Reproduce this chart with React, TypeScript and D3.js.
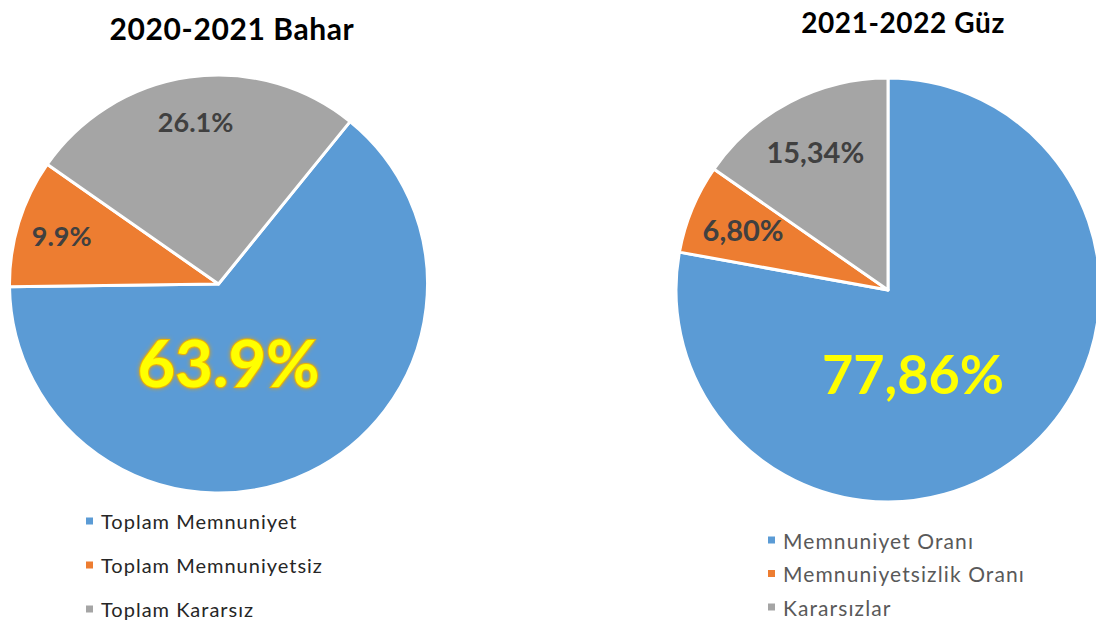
import React from "react";
import * as d3 from "d3";

const leftTitle = "2020-2021 Bahar";
const leftCategories = ["Toplam Memnuniyet", "Toplam Memnuniyetsiz", "Toplam Kararsız"];
const leftValues = [63.9, 9.9, 26.1];
const leftLabels = ["63.9%", "9.9%", "26.1%"];

const rightTitle = "2021-2022 Güz";
const rightCategories = ["Memnuniyet Oranı", "Memnuniyetsizlik Oranı", "Kararsızlar"];
const rightValues = [77.86, 6.8, 15.34];
const rightLabels = ["77,86%", "6,80%", "15,34%"];

const colors = ["#5B9BD5", "#ED7D31", "#A5A5A5"];
const FONT = "Lato, 'Open Sans', sans-serif";

type PieProps = {
  cx: number;
  cy: number;
  r: number;
  startDeg: number;
  values: number[];
  labels: string[];
  smallSize: number;
  bigSize: number;
  bigOffset: [number, number];
  labelFactor: number;
  glow: boolean;
};

function Pie(p: PieProps) {
  const start = (p.startDeg * Math.PI) / 180;
  const pie = d3
    .pie<number>()
    .sort(null)
    .value((d) => d)
    .startAngle(start)
    .endAngle(start + 2 * Math.PI);
  const arcs = pie(p.values);
  const arc = d3.arc<d3.PieArcDatum<number>>().innerRadius(0).outerRadius(p.r);
  const labelArc = d3
    .arc<d3.PieArcDatum<number>>()
    .innerRadius(p.r * p.labelFactor)
    .outerRadius(p.r * p.labelFactor);
  return (
    <g transform={`translate(${p.cx},${p.cy})`}>
      {arcs.map((a, i) => (
        <path key={i} d={arc(a) || ""} fill={colors[i]} stroke="#fff" strokeWidth={3} strokeLinejoin="round" />
      ))}
      {arcs.map((a, i) => {
        if (i === 0) {
          return (
            <text
              key={i}
              x={p.bigOffset[0]}
              y={p.bigOffset[1]}
              textAnchor="middle"
              dominantBaseline="central"
              fontFamily={FONT}
              fontWeight={700}
              fontSize={p.bigSize}
              fill="#FFFF00"
              stroke={p.glow ? "#F0B400" : "none"}
              strokeWidth={p.glow ? 2 : 0}
              paintOrder="stroke"
              filter={p.glow ? "url(#glow)" : undefined}
            >
              {p.labels[i]}
            </text>
          );
        }
        const [x, y] = labelArc.centroid(a);
        return (
          <text
            key={i}
            x={x}
            y={y}
            textAnchor="middle"
            dominantBaseline="central"
            fontFamily={FONT}
            fontWeight={700}
            fontSize={p.smallSize}
            fill="#404040"
          >
            {p.labels[i]}
          </text>
        );
      })}
    </g>
  );
}

type LegendProps = {
  x: number;
  y: number;
  gap: number;
  items: string[];
  size: number;
  spacing: number;
  color: string;
};

function Legend(p: LegendProps) {
  return (
    <g>
      {p.items.map((t, i) => (
        <g key={i} transform={`translate(${p.x},${p.y + i * p.gap})`}>
          <rect x={0} y={-3.5} width={7} height={7} fill={colors[i]} />
          <text
            x={15}
            y={0}
            dominantBaseline="central"
            fontFamily={FONT}
            fontSize={p.size}
            letterSpacing={p.spacing}
            fill={p.color}
          >
            {t}
          </text>
        </g>
      ))}
    </g>
  );
}

export default function App() {
  return (
    <svg
      width={1096}
      height={623}
      style={{ position: "absolute", left: 0, top: 0, background: "#fff" }}
    >
      <defs>
        <filter id="glow" x="-20%" y="-20%" width="140%" height="140%">
          <feGaussianBlur in="SourceAlpha" stdDeviation="2.2" result="b" />
          <feFlood floodColor="#E8A000" floodOpacity="0.85" />
          <feComposite in2="b" operator="in" result="g" />
          <feMerge>
            <feMergeNode in="g" />
            <feMergeNode in="SourceGraphic" />
          </feMerge>
        </filter>
      </defs>
      <text x={232} y={28} textAnchor="middle" dominantBaseline="central" fontFamily={FONT} fontWeight={700} fontSize={30} letterSpacing={0.6} fill="#000">
        {leftTitle}
      </text>
      <text x={903} y={22} textAnchor="middle" dominantBaseline="central" fontFamily={FONT} fontWeight={700} fontSize={28} letterSpacing={0.6} fill="#000">
        {rightTitle}
      </text>
      <Pie
        cx={218.5}
        cy={284}
        r={209}
        startDeg={39}
        values={leftValues}
        labels={leftLabels}
        smallSize={27}
        bigSize={65}
        bigOffset={[10, 78]}
        labelFactor={0.785}
        glow={true}
      />
      <Pie
        cx={888}
        cy={290}
        r={212}
        startDeg={0}
        values={rightValues}
        labels={rightLabels}
        smallSize={29}
        bigSize={54}
        bigOffset={[25, 83]}
        labelFactor={0.74}
        glow={false}
      />
      <Legend x={86} y={521} gap={44} items={leftCategories} size={20} spacing={1} color="#262626" />
      <Legend x={768} y={540} gap={33.5} items={rightCategories} size={21} spacing={1.1} color="#595959" />
    </svg>
  );
}
